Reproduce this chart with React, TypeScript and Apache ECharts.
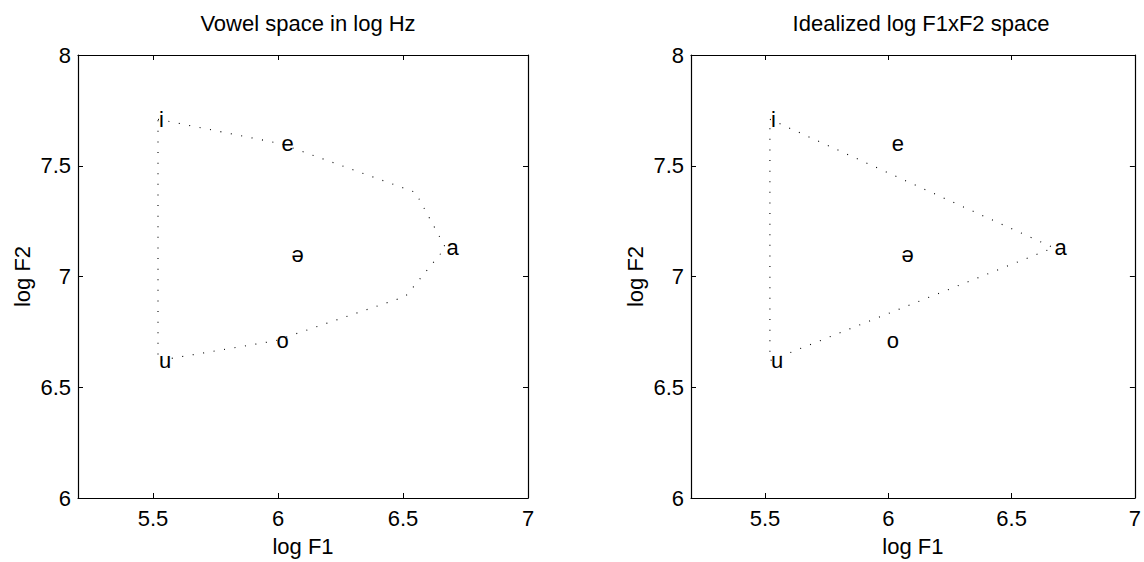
import React, { useEffect, useRef } from "react";
import * as echarts from "echarts";

const xTicks = [5.5, 6, 6.5, 7];
const vowels = ["i", "e", "a", "o", "u", "ə"];
const vowelF1 = [5.52, 6.01, 6.67, 5.99, 5.52, 6.05];
const vowelF2 = [7.71, 7.6, 7.13, 6.71, 6.62, 7.1];
const curveF1 = [5.52, 6.01, 6.55, 6.67, 6.51, 5.99, 5.52, 5.52];
const curveF2 = [7.71, 7.6, 7.38, 7.13, 6.91, 6.71, 6.62, 7.71];
const triF1 = [5.52, 6.67, 5.52, 5.52];
const triF2 = [7.71, 7.13, 6.62, 7.71];
const titles = ["Vowel space in log Hz", "Idealized log F1xF2 space"];

const FONT = "'Liberation Sans', Arial, Helvetica, sans-serif";
const FS = 22;

export default function App() {
  const ref = useRef<HTMLDivElement>(null);
  useEffect(() => {
    if (!ref.current) return;
    const chart = echarts.init(ref.current, null, { renderer: "svg" });
    const gridLefts = [78, 691];
    const grids = gridLefts.map((l) => ({ left: l, top: 55, width: 450, height: 445, show: false }));
    const xAxes: any[] = [];
    const yAxes: any[] = [];
    const lineCol = "#000";
    grids.forEach((_, gi) => {
      ["bottom", "top"].forEach((pos, k) => {
        xAxes.push({
          type: "value",
          gridIndex: gi,
          position: pos,
          min: 5.2,
          max: 7,
          name: k === 0 ? "log F1" : "",
          nameLocation: "middle",
          nameGap: 37,
          nameTextStyle: { fontSize: FS, color: "#000", fontFamily: FONT },
          axisLine: { show: true, onZero: false, lineStyle: { color: lineCol, width: 1.2 } },
          axisTick: { show: true, inside: true, length: 5, customValues: xTicks, lineStyle: { color: lineCol } },
          axisLabel: {
            show: k === 0,
            customValues: xTicks,
            fontSize: FS,
            color: "#000",
            fontFamily: FONT,
            margin: 9,
            formatter: (v: number) => String(v),
          },
          splitLine: { show: false },
        });
      });
      ["left", "right"].forEach((pos, k) => {
        yAxes.push({
          type: "value",
          gridIndex: gi,
          position: pos,
          min: 6,
          max: 8,
          interval: 0.5,
          name: k === 0 ? "log F2" : "",
          nameLocation: "middle",
          nameGap: 45,
          nameRotate: 90,
          nameTextStyle: { fontSize: FS, color: "#000", fontFamily: FONT },
          axisLine: { show: true, onZero: false, lineStyle: { color: lineCol, width: 1.2 } },
          axisTick: { show: true, inside: true, length: 5, lineStyle: { color: lineCol } },
          axisLabel: {
            show: k === 0,
            fontSize: FS,
            color: "#000",
            fontFamily: FONT,
            margin: 7,
            formatter: (v: number) => String(v),
          },
          splitLine: { show: false },
        });
      });
    });

    const dotted = { type: [1, 9.6], width: 1.1, color: "#000" };
    const labelData = vowels.map((n, i) => ({ name: n, value: [vowelF1[i], vowelF2[i]] }));
    const series: any[] = [
      {
        type: "line",
        xAxisIndex: 0,
        yAxisIndex: 0,
        data: curveF1.map((x, i) => [x, curveF2[i]]),
        showSymbol: false,
        symbol: "none",
        lineStyle: dotted,
        silent: true,
      },
      {
        type: "line",
        xAxisIndex: 2,
        yAxisIndex: 2,
        data: triF1.map((x, i) => [x, triF2[i]]),
        showSymbol: false,
        symbol: "none",
        lineStyle: dotted,
        silent: true,
      },
    ];
    [0, 2].forEach((ai) => {
      series.push({
        type: "scatter",
        xAxisIndex: ai,
        yAxisIndex: ai,
        data: labelData,
        symbolSize: 0.01,
        itemStyle: { color: "#000", opacity: 1 },
        label: {
          show: true,
          position: "right",
          distance: 1,
          formatter: "{b}",
          fontSize: FS,
          color: "#000",
          opacity: 1,
          fontFamily: FONT,
        },
        silent: true,
      });
    });

    chart.setOption({
      animation: false,
      backgroundColor: "#fff",
      title: titles.map((t, i) => ({
        text: t,
        left: gridLefts[i] + 225,
        top: 7,
        textAlign: "center",
        textStyle: { fontSize: FS, fontWeight: "normal", color: "#000", fontFamily: FONT },
      })),
      grid: grids,
      xAxis: xAxes,
      yAxis: yAxes,
      series,
    });
    return () => chart.dispose();
  }, []);
  return (
    <div
      ref={ref}
      style={{ position: "fixed", left: 0, top: 0, width: 1144, height: 562, background: "#fff" }}
    />
  );
}
